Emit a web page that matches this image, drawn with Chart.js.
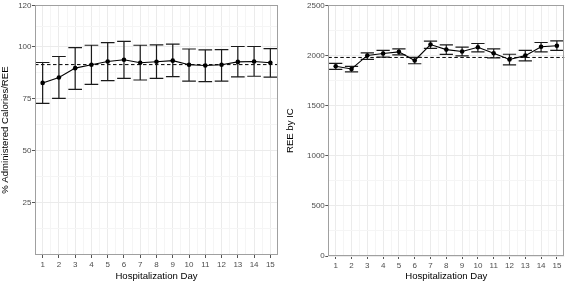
<!DOCTYPE html>
<html>
<head>
<meta charset="utf-8">
<script src="https://cdn.jsdelivr.net/npm/chart.js@4.4.1/dist/chart.umd.min.js"></script>
<style>
  html, body { margin: 0; padding: 0; background: #fff; }
  #wrap { position: relative; width: 567px; height: 283px; }
  canvas { position: absolute; top: 0; }
  #left { left: 0; }
  #right { left: 285px; }
</style>
</head>
<body>
<div id="wrap">
  <canvas id="left" width="285" height="283"></canvas>
  <canvas id="right" width="282" height="283"></canvas>
</div>
<script>
// Hospitalization days.
var days = [1, 2, 3, 4, 5, 6, 7, 8, 9, 10, 11, 12, 13, 14, 15];

// % administered calories / REE (mean, lower and upper error bar).
var calPct     = [82.7, 85.3, 89.8, 91.4, 93.0, 93.8, 92.4, 92.9, 93.4, 91.4, 91.1, 91.4, 92.8, 93.0, 92.4];
var calPctLow  = [72.9, 75.3, 79.6, 82.0, 83.8, 84.9, 84.1, 84.9, 85.7, 83.6, 83.3, 83.6, 85.6, 85.9, 85.5];
var calPctHigh = [92.5, 95.4, 99.7, 100.8, 102.1, 102.7, 100.8, 101.0, 101.3, 99.0, 98.6, 98.7, 100.2, 100.2, 99.2];
var calPctRef = 91.5;

// REE by indirect calorimetry (mean, lower and upper error bar).
var ree     = [1892, 1865, 2000, 2020, 2036, 1950, 2109, 2058, 2040, 2081, 2022, 1960, 1998, 2086, 2097];
var reeLow  = [1861, 1837, 1960, 1983, 2006, 1917, 2070, 2010, 1996, 2036, 1976, 1906, 1946, 2036, 2050];
var reeHigh = [1920, 1891, 2026, 2050, 2066, 1980, 2142, 2105, 2083, 2119, 2066, 2012, 2050, 2129, 2145];
var reeRef = 1980;

// Tick labels and minor grid positions.
var dayMinor = [1.5, 2.5, 3.5, 4.5, 5.5, 6.5, 7.5, 8.5, 9.5, 10.5, 11.5, 12.5, 13.5, 14.5];
var calTicks = [25, 50, 75, 100, 120];
var calMinor = [12.5, 37.5, 62.5, 87.5, 110];
var reeTicks = [0, 500, 1000, 1500, 2000, 2500];
var reeMinor = [250, 750, 1250, 1750, 2250];

var FONT = '"Liberation Sans", Arial, Helvetica, sans-serif';

function toTicks(major, minor) {
  return major.map(function (v) { return { value: v }; })
    .concat(minor.map(function (v) { return { value: v, minor: true }; }))
    .sort(function (a, b) { return a.value - b.value; });
}

function isMinor(list, v) {
  return list.indexOf(v) !== -1;
}

// Error bars, dashed reference line and panel border.
function panelPlugin(low, high, ref) {
  return {
    id: 'panel',
    beforeDatasetsDraw: function (chart) {
      var ctx = chart.ctx;
      var x = chart.scales.x;
      var y = chart.scales.y;
      var area = chart.chartArea;
      ctx.save();
      ctx.strokeStyle = '#000';
      ctx.lineWidth = 1;
      ctx.setLineDash([3.5, 2.5]);
      var ry = y.getPixelForValue(ref);
      ctx.beginPath();
      ctx.moveTo(area.left, ry);
      ctx.lineTo(area.right, ry);
      ctx.stroke();
      ctx.setLineDash([]);
      ctx.strokeStyle = '#1a1a1a';
      ctx.lineWidth = 1.2;
      days.forEach(function (d, i) {
        var cx = x.getPixelForValue(d);
        var hw = x.getPixelForValue(d + 0.42) - cx;
        var top = y.getPixelForValue(high[i]);
        var bot = y.getPixelForValue(low[i]);
        ctx.beginPath();
        ctx.moveTo(cx, top);
        ctx.lineTo(cx, bot);
        ctx.moveTo(cx - hw, top);
        ctx.lineTo(cx + hw, top);
        ctx.moveTo(cx - hw, bot);
        ctx.lineTo(cx + hw, bot);
        ctx.stroke();
      });
      ctx.restore();
    },
    afterDraw: function (chart) {
      var a = chart.chartArea;
      var ctx = chart.ctx;
      ctx.save();
      ctx.strokeStyle = '#a0a0a0';
      ctx.lineWidth = 1;
      ctx.strokeRect(Math.round(a.left) + 0.5, Math.round(a.top) + 0.5,
        Math.round(a.right - a.left) - 1, Math.round(a.bottom - a.top) - 1);
      ctx.restore();
    }
  };
}

function buildChart(id, cfg) {
  var gridColor = function (minorList) {
    return function (c) {
      return isMinor(minorList, c.tick.value) ? '#f5f5f5' : '#ebebeb';
    };
  };
  var tickColor = function (minorList) {
    return function (c) {
      return isMinor(minorList, c.tick.value) ? 'rgba(0,0,0,0)' : '#555';
    };
  };
  return new Chart(document.getElementById(id), {
    type: 'line',
    data: {
      datasets: [{
        data: days.map(function (d, i) { return { x: d, y: cfg.mean[i] }; }),
        borderColor: '#000',
        borderWidth: 1.1,
        pointRadius: 2.3,
        pointBackgroundColor: '#000',
        pointBorderWidth: 0,
        tension: 0
      }]
    },
    options: {
      responsive: false,
      animation: false,
      devicePixelRatio: 1,
      layout: {
        autoPadding: false,
        padding: { left: 0, right: cfg.padRight, top: 5, bottom: 0 }
      },
      plugins: {
        legend: { display: false },
        tooltip: { enabled: false }
      },
      scales: {
        x: {
          type: 'linear',
          min: 0.53,
          max: 15.47,
          afterBuildTicks: function (s) { s.ticks = toTicks(days, dayMinor); },
          afterFit: function (s) { s.height = cfg.xHeight; },
          border: { display: false },
          grid: {
            color: gridColor(dayMinor),
            lineWidth: 1,
            drawTicks: true,
            tickLength: 3,
            tickColor: tickColor(dayMinor)
          },
          ticks: {
            autoSkip: false,
            maxRotation: 0,
            padding: 1.5,
            color: '#4d4d4d',
            font: { family: FONT, size: 8 },
            callback: function (v) { return isMinor(dayMinor, v) ? '' : String(v); }
          },
          title: {
            display: true,
            text: 'Hospitalization Day',
            color: '#000',
            font: { family: FONT, size: 9.6 },
            padding: { top: 0, bottom: 0.5 }
          }
        },
        y: {
          min: cfg.yMin,
          max: cfg.yMax,
          afterBuildTicks: function (s) { s.ticks = toTicks(cfg.yTicks, cfg.yMinor); },
          afterFit: function (s) { s.width = cfg.yWidth; },
          border: { display: false },
          grid: {
            color: gridColor(cfg.yMinor),
            lineWidth: 1,
            drawTicks: true,
            tickLength: 3,
            tickColor: tickColor(cfg.yMinor)
          },
          ticks: {
            autoSkip: false,
            padding: 0.5,
            color: '#4d4d4d',
            font: { family: FONT, size: 8 },
            callback: function (v) { return isMinor(cfg.yMinor, v) ? '' : String(v); }
          },
          title: {
            display: true,
            text: cfg.yTitle,
            color: '#000',
            font: { family: FONT, size: 9.6 },
            padding: { top: 0, bottom: 0 }
          }
        }
      }
    },
    plugins: [panelPlugin(cfg.low, cfg.high, cfg.ref)]
  });
}

buildChart('left', {
  mean: calPct, low: calPctLow, high: calPctHigh, ref: calPctRef,
  yMin: 0, yMax: 120, yTicks: calTicks, yMinor: calMinor,
  yTitle: '% Administered Calories/REE',
  yWidth: 35, xHeight: 28, padRight: 7
});

buildChart('right', {
  mean: ree, low: reeLow, high: reeHigh, ref: reeRef,
  yMin: 0, yMax: 2500, yTicks: reeTicks, yMinor: reeMinor,
  yTitle: 'REE by IC',
  yWidth: 43.3, xHeight: 27, padRight: 2.7
});
</script>
</body>
</html>
